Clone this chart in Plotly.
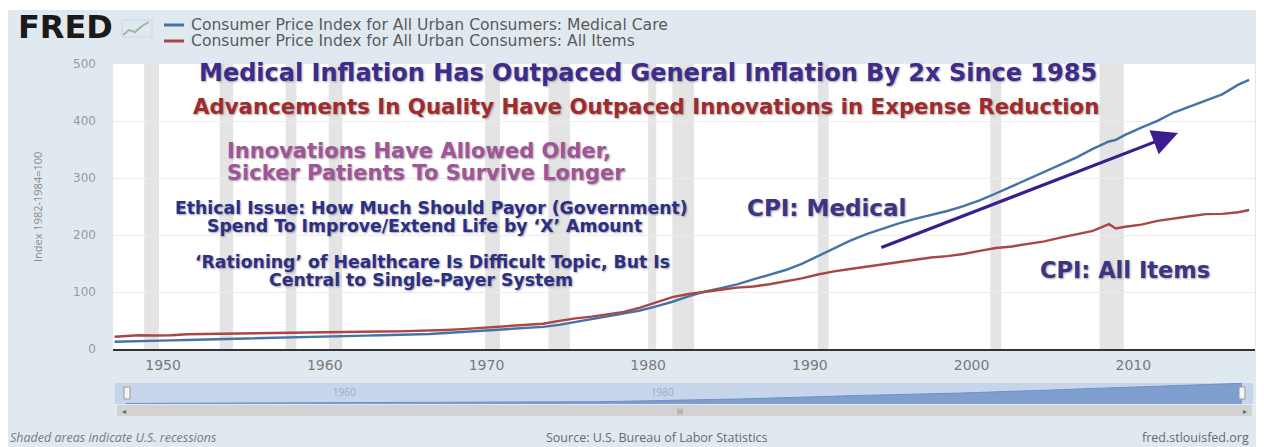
import plotly.graph_objects as go

# ---------------- data ----------------
dates = (["1947-01-01"]
         + [f"{y}-07-01" for y in range(1947, 2009)]
         + ["2008-12-01"]
         + [f"{y}-07-01" for y in range(2009, 2017)]
         + ["2017-03-01"])

medical_care = [12.8,
    13.3, 14.0, 14.4, 15.1, 15.9, 16.7, 17.3, 17.8, 18.2, 18.9,
    19.7, 20.6, 21.5, 22.3, 22.9, 23.5, 24.1, 24.6, 25.2, 26.3,
    28.2, 29.9, 31.9, 34.0, 36.1, 37.3, 38.8, 42.4, 47.5, 52.0,
    57.0, 61.8, 67.5, 74.9, 82.9, 92.5, 100.6, 106.8, 113.5, 122.0,
    130.1, 138.6, 149.3, 162.8, 177.0, 190.1, 201.4, 211.0, 220.5, 228.2,
    234.6, 242.1, 250.6, 260.8, 272.8, 285.6, 297.1, 310.1, 323.2, 336.2,
    351.1, 364.1,
    367.0,
    375.6, 388.4, 400.3, 414.9, 425.1, 435.3, 446.8, 463.7,
    472.0]

all_items = [21.5,
    22.3, 24.0, 23.8, 24.1, 26.0, 26.5, 26.7, 26.9, 26.8, 27.2,
    28.1, 28.9, 29.1, 29.6, 29.9, 30.2, 30.6, 31.0, 31.5, 32.4,
    33.4, 34.8, 36.7, 38.8, 40.5, 41.8, 44.4, 49.3, 53.8, 56.9,
    60.6, 65.2, 72.6, 82.4, 90.9, 96.5, 99.6, 103.9, 107.6, 109.6,
    113.6, 118.3, 124.0, 130.7, 136.2, 140.3, 144.5, 148.2, 152.4, 156.9,
    160.5, 163.0, 166.6, 172.2, 177.1, 179.9, 184.0, 188.9, 195.3, 201.6,
    207.3, 219.0,
    211.4,
    214.5, 218.1, 224.9, 229.6, 233.0, 236.7, 237.0, 240.0,
    243.8]

recession_start = ["1948-11-01", "1953-07-01", "1957-08-01", "1960-04-01",
                   "1969-12-01", "1973-11-01", "1980-01-01", "1981-07-01",
                   "1990-07-01", "2001-03-01", "2007-12-01"]
recession_end = ["1949-10-01", "1954-05-01", "1958-04-01", "1961-02-01",
                 "1970-11-01", "1975-03-01", "1980-07-01", "1982-11-01",
                 "1991-03-01", "2001-11-01", "2009-06-01"]

series_names = ["Consumer Price Index for All Urban Consumers: Medical Care",
                "Consumer Price Index for All Urban Consumers: All Items"]
y_ticks = [0, 100, 200, 300, 400, 500]
nav_ticks = ["1960-01-01", "1980-01-01"]

# ---------------- styling ----------------
BLUE = "#4572a7"
RED = "#aa4643"
BG = "#e1e9f0"
OFF = 8                       # page body margin of the browser
W, H = 1256, 439
ML, MT = 113 - OFF, 64 - OFF
MR = W - (1255 - OFF)
MB = H - (422 - OFF)
PW = W - ML - MR
PH = H - MT - MB


def xp(px):
    """reference-image x pixel -> paper coordinate"""
    return (px - OFF - ML) / PW


def yp(py):
    """reference-image y pixel -> paper coordinate"""
    return (H - MB - (py - OFF)) / PH


fig = go.Figure()

fig.add_trace(go.Scatter(x=dates, y=medical_care, mode="lines", name=series_names[0],
                         line=dict(color=BLUE, width=2.4), xaxis="x", yaxis="y"))
fig.add_trace(go.Scatter(x=dates, y=all_items, mode="lines", name=series_names[1],
                         line=dict(color=RED, width=2.4), xaxis="x", yaxis="y"))
# navigator area
fig.add_trace(go.Scatter(x=dates, y=medical_care, mode="lines", fill="tozeroy",
                         fillcolor="#7f9ed0", line=dict(color="#6f8fc6", width=1),
                         xaxis="x2", yaxis="y2", hoverinfo="skip"))

shapes = []
for s, e in zip(recession_start, recession_end):
    shapes.append(dict(type="rect", xref="x", yref="y domain", x0=s, x1=e, y0=0, y1=1,
                       fillcolor="#e4e4e4", line=dict(width=0), layer="below"))
# thin white strip at the very top
shapes.append(dict(type="rect", xref="paper", yref="paper", x0=xp(0), x1=xp(1270),
                   y0=yp(10), y1=yp(0), fillcolor="white", line=dict(width=0)))
# navigator background
shapes.append(dict(type="rect", xref="x2 domain", yref="y2 domain", x0=-0.01, x1=1.01,
                   y0=0, y1=1, fillcolor="#c7d5ea", line=dict(width=0), layer="below"))
# navigator handles
for hx in (127, 1242):
    shapes.append(dict(type="rect", xref="paper", yref="paper", x0=xp(hx - 3), x1=xp(hx + 3),
                       y0=yp(399), y1=yp(387), fillcolor="#f4f4f4",
                       line=dict(color="#999", width=1)))
# scrollbar
shapes.append(dict(type="rect", xref="paper", yref="paper", x0=xp(117), x1=xp(1252),
                   y0=yp(416), y1=yp(405), fillcolor="#d2d2d2", line=dict(width=0)))
# small FRED chart icon
icon_pts = [(123, 35), (129, 30), (135, 32), (142, 26), (149, 22)]
path = "M " + " L ".join(f"{xp(a):.5f},{yp(b):.5f}" for a, b in icon_pts)
shapes.append(dict(type="path", xref="paper", yref="paper", path=path,
                   line=dict(color="#9fb6a6", width=2)))
shapes.append(dict(type="rect", xref="paper", yref="paper", x0=xp(122), x1=xp(152),
                   y0=yp(37), y1=yp(20), line=dict(color="#cfd8dd", width=1)))
# legend swatches
for py, col in ((25, BLUE), (41, RED)):
    shapes.append(dict(type="line", xref="paper", yref="paper", x0=xp(164), x1=xp(184),
                       y0=yp(py), y1=yp(py), line=dict(color=col, width=3)))

SH = "1px 1px 2px rgba(90,90,90,0.55)"
ann = []


def txt(text, px, py, size, color, family="DejaVu Sans", weight="bold", xanchor="center",
        shadow=None, style="normal", angle=0):
    f = dict(size=size, color=color, family=family, weight=weight, style=style)
    if shadow:
        f["shadow"] = shadow
    ann.append(dict(text=text, x=xp(px), y=yp(py), xref="paper", yref="paper",
                    xanchor=xanchor, yanchor="middle", showarrow=False, font=f,
                    textangle=angle))


# header
txt("FRED", 16, 27, 32, "#1a1a1a", xanchor="left")
txt(series_names[0], 189, 25, 15.6, "#5a5a5a", family="DejaVu Sans", weight="normal", xanchor="left")
txt(series_names[1], 189, 41, 15.6, "#5a5a5a", family="DejaVu Sans", weight="normal", xanchor="left")

# overlaid commentary
txt("Medical Inflation Has Outpaced General Inflation By 2x Since 1985", 648, 73, 24,
    "#3d2c8d", shadow=SH)
txt("Advancements In Quality Have Outpaced Innovations in Expense Reduction", 646, 107, 21.3,
    "#9e2b2f", shadow=SH)
txt("Innovations Have Allowed Older,", 225, 151, 21, "#a0559a", xanchor="left", shadow=SH)
txt("Sicker Patients To Survive Longer", 225, 173, 21, "#a0559a", xanchor="left", shadow=SH)
txt("Ethical Issue: How Much Should Payor (Government)", 431, 208, 17.3, "#2c2f86", shadow=SH)
txt("Spend To Improve/Extend Life by ‘X’ Amount", 425, 226, 17.3, "#2c2f86", shadow=SH)
txt("‘Rationing’ of Healthcare Is Difficult Topic, But Is", 432, 262, 17.3, "#2c2f86", shadow=SH)
txt("Central to Single-Payer System", 421, 280, 17.3, "#2c2f86", shadow=SH)
txt("CPI: Medical", 826, 208, 23, "#3b3584", shadow=SH)
txt("CPI: All Items", 1125, 270, 22.5, "#3b3584", shadow=SH)

# y axis title
txt("Index 1982-1984=100", 37, 207, 11, "#8a8a8a", family="Open Sans", weight="normal", angle=-90)

# scrollbar decorations
txt("◂", 124, 411, 8, "#666", family="DejaVu Sans", weight="normal")
txt("▸", 1245, 411, 8, "#666", family="DejaVu Sans", weight="normal")
txt("|||", 680, 411, 6, "#666", family="DejaVu Sans", weight="normal")

# footer
txt("Shaded areas indicate U.S. recessions", 8, 437, 12.5, "#7a7a7a", family="Open Sans",
    weight="normal", xanchor="left", style="italic")
txt("Source: U.S. Bureau of Labor Statistics", 657, 437, 12.5, "#6a6a6a", family="Open Sans",
    weight="normal")
txt("fred.stlouisfed.org", 1251, 437, 12.5, "#6a6a6a", family="Open Sans", weight="normal",
    xanchor="right")

# arrow
ann.append(dict(x="2012-10-07", y=379, ax="1994-05-01", ay=177, xref="x", yref="y",
                axref="x", ayref="y", showarrow=True, text="", arrowhead=2, arrowsize=1.6,
                arrowwidth=3.2, arrowcolor="#3a1d8e"))

fig.update_layout(
    width=W, height=H, autosize=False,
    margin=dict(l=ML, r=MR, t=MT, b=MB),
    paper_bgcolor=BG, plot_bgcolor="white",
    showlegend=False,
    font=dict(family="Open Sans", color="#777"),
    xaxis=dict(domain=[0, 1], anchor="y", type="date",
               range=["1946-11-27", "2017-07-12"],
               tick0="1950-01-01", dtick="M120", tickformat="%Y",
               showgrid=False, zeroline=False, showline=True, linecolor="#333", linewidth=2,
               ticks="", ticklabelstandoff=2,
               tickfont=dict(size=14, color="#7a7a7a", family="DejaVu Sans")),
    yaxis=dict(domain=[yp(349), 1], anchor="x", range=[0, 500], tickvals=y_ticks,
               showgrid=True, gridcolor="#ececec", gridwidth=1, zeroline=False,
               showline=False, ticks="", ticklabelstandoff=16,
               tickfont=dict(size=12, color="#9a9a9a", family="DejaVu Sans")),
    xaxis2=dict(domain=[xp(126), xp(1242)], anchor="y2", type="date",
                range=["1947-01-01", "2017-03-01"], side="top",
                tickvals=nav_ticks, tickformat="%Y", ticklabelposition="inside right",
                ticks="", showgrid=False, zeroline=False, showline=False,
                tickfont=dict(size=10, color="rgba(120,140,180,0.6)")),
    yaxis2=dict(domain=[yp(404), yp(383)], anchor="x2", range=[0, 480], visible=False),
    shapes=shapes,
    annotations=ann,
)

fig.write_html("out.html")
